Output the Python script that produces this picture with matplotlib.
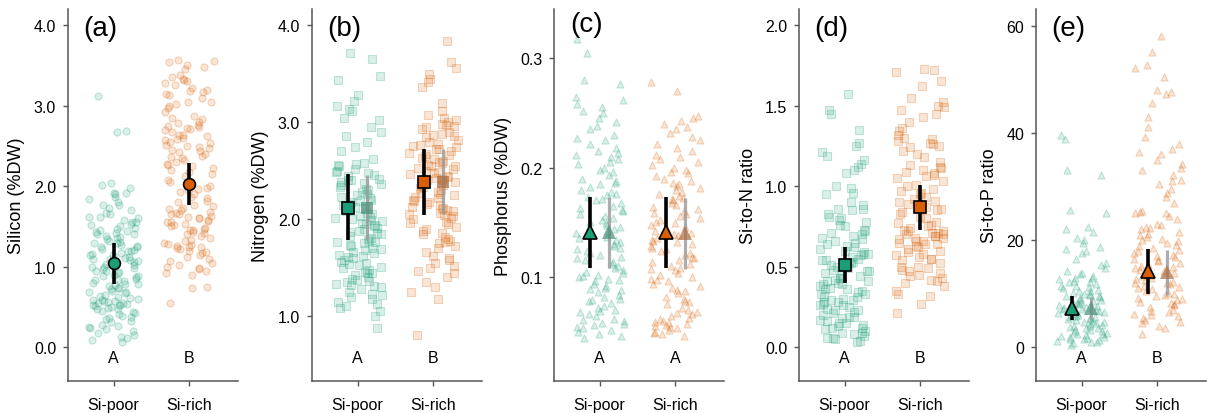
import numpy as np
import matplotlib
matplotlib.use('Agg')
import matplotlib.pyplot as plt
from matplotlib.colors import to_rgba, to_rgb

plt.rcParams['font.family'] = ['Liberation Sans', 'DejaVu Sans']

#%% Data

groups = ['Si-poor', 'Si-rich']
col_grp = ['#1b9e77', '#d95f02']

# (a) Silicon (%DW)
si_poor = [3.12, 2.69, 2.67, 2.04, 2.02, 1.98, 1.92, 1.91, 1.90, 1.87, 1.84, 1.80, 1.76, 1.73, 1.70, 1.67,
           1.65, 1.62, 1.60, 1.58, 1.56, 1.53, 1.52, 1.50, 1.48, 1.46, 1.44, 1.43, 1.41, 1.40, 1.38, 1.36,
           1.34, 1.32, 1.30, 1.29, 1.27, 1.25, 1.24, 1.22, 1.20, 1.19, 1.17, 1.16, 1.14, 1.12, 1.11, 1.10,
           1.09, 1.07, 1.06, 1.04, 1.03, 1.01, 1.00, 0.98, 0.97, 0.95, 0.93, 0.92, 0.90, 0.88, 0.87, 0.85,
           0.84, 0.82, 0.80, 0.78, 0.77, 0.76, 0.74, 0.72, 0.70, 0.69, 0.67, 0.65, 0.63, 0.61, 0.60, 0.59,
           0.58, 0.57, 0.56, 0.55, 0.54, 0.53, 0.52, 0.51, 0.50, 0.48, 0.47, 0.45, 0.43, 0.41, 0.39, 0.37,
           0.35, 0.33, 0.31, 0.28, 0.26, 0.24, 0.22, 0.20, 0.18, 0.15, 0.13, 0.11, 0.09, 0.07,
           1.55, 1.47, 1.42, 1.37, 1.31, 1.26, 1.21, 1.15, 1.08, 1.02, 0.99, 0.94, 0.89, 0.83, 0.79, 0.73,
           0.68, 0.62, 0.57, 0.55, 0.52, 0.49, 0.44, 0.36, 1.76, 1.62, 0.25]
si_rich = [3.57, 3.55, 3.54, 3.50, 3.48, 3.45, 3.38, 3.36, 3.33, 3.30, 3.28, 3.25, 3.22, 3.20, 3.17, 3.15,
           3.13, 3.10, 3.05, 3.02, 3.00, 2.97, 2.92, 2.87, 2.85, 2.83, 2.80, 2.78, 2.75, 2.73, 2.72, 2.70,
           2.67, 2.63, 2.62, 2.60, 2.58, 2.55, 2.53, 2.50, 2.48, 2.47, 2.45, 2.43, 2.40, 2.38, 2.35, 2.32,
           2.30, 2.28, 2.25, 2.22, 2.20, 2.17, 2.15, 2.12, 2.08, 2.05, 2.00, 1.97, 1.95, 1.93, 1.90, 1.87,
           1.85, 1.82, 1.80, 1.77, 1.75, 1.73, 1.70, 1.68, 1.67, 1.65, 1.63, 1.62, 1.60, 1.58, 1.56, 1.55,
           1.53, 1.50, 1.48, 1.46, 1.45, 1.43, 1.40, 1.38, 1.35, 1.32, 1.30, 1.28, 1.27, 1.25, 1.23, 1.22,
           1.20, 1.18, 1.15, 1.12, 1.10, 1.07, 1.05, 1.02, 1.00, 0.97, 0.95, 0.92, 0.90, 0.75, 0.73, 0.55,
           3.32, 3.18, 3.05, 2.76, 2.71, 2.64, 2.57, 2.51, 2.44, 2.36, 2.26, 1.98, 1.72, 1.66, 1.61, 1.57,
           1.52, 1.47, 1.42, 1.33, 1.26, 1.24, 1.17, 0.98]

# (b) Nitrogen (%DW)
n_poor = [3.72, 3.65, 3.48, 3.44, 3.28, 3.22, 3.17, 3.14, 3.12, 3.05, 3.02, 2.95, 2.90, 2.86, 2.80, 2.75,
          2.70, 2.62, 2.58, 2.56, 2.55, 2.52, 2.50, 2.48, 2.46, 2.45, 2.42, 2.40, 2.38, 2.36, 2.35, 2.33,
          2.30, 2.28, 2.26, 2.25, 2.22, 2.20, 2.18, 2.16, 2.15, 2.13, 2.10, 2.08, 2.06, 2.05, 2.03, 2.01,
          2.00, 1.98, 1.96, 1.95, 1.93, 1.91, 1.90, 1.88, 1.86, 1.85, 1.83, 1.81, 1.80, 1.78, 1.76, 1.75,
          1.73, 1.72, 1.70, 1.68, 1.66, 1.65, 1.63, 1.61, 1.60, 1.58, 1.56, 1.55, 1.53, 1.51, 1.50, 1.48,
          1.46, 1.44, 1.42, 1.40, 1.38, 1.36, 1.35, 1.33, 1.31, 1.30, 1.28, 1.25, 1.23, 1.20, 1.18, 1.15,
          1.12, 1.10, 1.08, 1.05, 1.00, 0.88,
          2.57, 2.49, 2.41, 2.31, 2.23, 2.12, 2.02, 1.94, 1.87, 1.77, 1.69, 1.62, 1.54, 1.45, 1.37, 1.32,
          1.22, 2.37, 2.19, 1.99]
n_rich = [3.84, 3.62, 3.56, 3.50, 3.45, 3.42, 3.36, 3.20, 3.12, 3.08, 3.05, 3.02, 3.00, 2.98, 2.96, 2.95,
          2.93, 2.90, 2.88, 2.86, 2.85, 2.82, 2.80, 2.78, 2.76, 2.75, 2.73, 2.72, 2.70, 2.68, 2.66, 2.65,
          2.63, 2.62, 2.60, 2.58, 2.56, 2.55, 2.53, 2.52, 2.50, 2.48, 2.47, 2.45, 2.43, 2.42, 2.40, 2.38,
          2.37, 2.35, 2.33, 2.32, 2.30, 2.28, 2.27, 2.25, 2.23, 2.22, 2.20, 2.18, 2.16, 2.15, 2.13, 2.11,
          2.10, 2.08, 2.06, 2.05, 2.03, 2.01, 2.00, 1.97, 1.95, 1.92, 1.90, 1.88, 1.85, 1.82, 1.80, 1.78,
          1.75, 1.72, 1.70, 1.66, 1.62, 1.58, 1.55, 1.50, 1.47, 1.45, 1.40, 1.35, 1.30, 1.25, 1.18, 0.80,
          2.97, 2.87, 2.77, 2.67, 2.59, 2.49, 2.41, 2.34, 2.26, 2.19, 2.12, 2.04, 1.96, 1.86, 1.76, 1.60,
          1.52, 2.55, 2.44]

# (c) Phosphorus (%DW)
p_poor = [0.318, 0.305, 0.280, 0.276, 0.265, 0.262, 0.258, 0.252, 0.250, 0.245, 0.242, 0.238, 0.235,
          0.230, 0.225, 0.222, 0.218, 0.215, 0.212, 0.210, 0.208, 0.205, 0.200, 0.198, 0.196, 0.193,
          0.190, 0.188, 0.185, 0.182, 0.180, 0.178, 0.176, 0.173, 0.171, 0.170, 0.168, 0.165, 0.163,
          0.160, 0.158, 0.156, 0.154, 0.152, 0.150, 0.148, 0.146, 0.144, 0.142, 0.140, 0.138, 0.136,
          0.134, 0.132, 0.130, 0.128, 0.126, 0.124, 0.122, 0.120, 0.118, 0.116, 0.114, 0.112, 0.110,
          0.108, 0.106, 0.104, 0.102, 0.100, 0.098, 0.096, 0.094, 0.092, 0.090, 0.088, 0.086, 0.084,
          0.082, 0.080, 0.078, 0.076, 0.074, 0.072, 0.070, 0.068, 0.066, 0.064, 0.062, 0.060, 0.058,
          0.056, 0.054, 0.052, 0.050, 0.048, 0.046, 0.044,
          0.255, 0.227, 0.213, 0.203, 0.186, 0.175, 0.161, 0.149, 0.137, 0.127, 0.117, 0.105, 0.097,
          0.089, 0.079, 0.069, 0.061, 0.053, 0.057, 0.101]
p_rich = [0.278, 0.270, 0.247, 0.245, 0.243, 0.240, 0.235, 0.232, 0.228, 0.225, 0.222, 0.218, 0.215,
          0.210, 0.208, 0.205, 0.202, 0.200, 0.198, 0.195, 0.192, 0.190, 0.188, 0.186, 0.185, 0.183,
          0.180, 0.178, 0.176, 0.174, 0.172, 0.170, 0.168, 0.166, 0.164, 0.162, 0.160, 0.158, 0.156,
          0.154, 0.152, 0.150, 0.148, 0.146, 0.144, 0.142, 0.140, 0.138, 0.136, 0.134, 0.132, 0.130,
          0.128, 0.126, 0.124, 0.122, 0.120, 0.118, 0.116, 0.114, 0.112, 0.110, 0.108, 0.106, 0.104,
          0.102, 0.100, 0.098, 0.096, 0.094, 0.092, 0.090, 0.088, 0.085, 0.082, 0.080, 0.078, 0.075,
          0.072, 0.070, 0.068, 0.066, 0.064, 0.062, 0.060, 0.058, 0.056, 0.055, 0.054, 0.052, 0.050,
          0.048, 0.046,
          0.237, 0.212, 0.196, 0.181, 0.171, 0.159, 0.149, 0.139, 0.127, 0.117, 0.107, 0.097, 0.087,
          0.077, 0.067, 0.059, 0.053, 0.049, 0.057, 0.063, 0.133]

# (d) Si-to-N ratio
sin_poor = [1.57, 1.47, 1.45, 1.35, 1.27, 1.25, 1.21, 1.19, 1.16, 1.14, 1.12, 1.10, 1.08, 1.00, 0.99, 0.96,
            0.95, 0.90, 0.88, 0.86, 0.85, 0.83, 0.81, 0.80, 0.78, 0.76, 0.75, 0.73, 0.72, 0.70, 0.69, 0.67,
            0.66, 0.65, 0.64, 0.62, 0.61, 0.60, 0.59, 0.58, 0.57, 0.56, 0.55, 0.54, 0.53, 0.52, 0.51, 0.50,
            0.49, 0.48, 0.47, 0.46, 0.45, 0.44, 0.43, 0.42, 0.41, 0.40, 0.39, 0.38, 0.37, 0.36, 0.35, 0.34,
            0.33, 0.32, 0.31, 0.30, 0.29, 0.28, 0.27, 0.26, 0.25, 0.24, 0.23, 0.22, 0.21, 0.20, 0.19, 0.18,
            0.17, 0.16, 0.15, 0.14, 0.13, 0.12, 0.11, 0.10, 0.09, 0.08, 0.07, 0.06, 0.05, 0.04, 0.03,
            0.86, 0.79, 0.71, 0.68, 0.63, 0.58, 0.54, 0.51, 0.47, 0.43, 0.39, 0.36, 0.33, 0.29, 0.26, 0.23,
            0.19, 0.15, 0.12, 0.09, 0.06, 0.53, 0.41, 0.28]
sin_rich = [1.73, 1.72, 1.71, 1.65, 1.62, 1.55, 1.52, 1.50, 1.49, 1.47, 1.45, 1.43, 1.40, 1.36, 1.34, 1.32,
            1.30, 1.28, 1.27, 1.26, 1.24, 1.22, 1.20, 1.18, 1.15, 1.13, 1.11, 1.10, 1.09, 1.08, 1.06, 1.05,
            1.03, 1.01, 1.00, 0.98, 0.96, 0.95, 0.93, 0.92, 0.90, 0.89, 0.87, 0.86, 0.84, 0.83, 0.81, 0.80,
            0.78, 0.77, 0.75, 0.74, 0.73, 0.72, 0.71, 0.70, 0.69, 0.68, 0.67, 0.66, 0.65, 0.64, 0.63, 0.62,
            0.61, 0.60, 0.58, 0.57, 0.56, 0.55, 0.54, 0.52, 0.50, 0.49, 0.47, 0.46, 0.45, 0.44, 0.42, 0.41,
            0.40, 0.38, 0.35, 0.33, 0.32, 0.27, 0.21,
            1.29, 1.25, 1.12, 1.07, 0.97, 0.91, 0.85, 0.76, 0.72, 0.70, 0.68, 0.66, 0.64, 0.59, 0.55, 0.50,
            0.48, 0.43, 0.71, 0.69]

# (e) Si-to-P ratio
sip_poor = [39.6, 38.9, 33.0, 32.2, 25.6, 25.0, 22.5, 22.1, 21.5, 20.3, 20.0, 19.4, 18.7, 18.3, 18.0, 17.5,
            16.5, 15.8, 15.3, 14.8, 14.2, 13.6, 13.3, 13.0, 12.7, 12.4, 12.1, 11.8, 11.5, 11.2, 11.0, 10.7,
            10.5, 10.2, 10.0, 9.8, 9.5, 9.3, 9.1, 8.9, 8.7, 8.5, 8.3, 8.1, 7.9, 7.7, 7.5, 7.3, 7.1, 6.9,
            6.7, 6.5, 6.3, 6.1, 5.9, 5.7, 5.5, 5.3, 5.1, 4.9, 4.7, 4.5, 4.3, 4.1, 3.9, 3.7, 3.5, 3.3, 3.1,
            2.9, 2.7, 2.5, 2.3, 2.1, 1.9, 1.7, 1.5, 1.3, 1.1, 0.9, 0.7, 0.5,
            13.8, 12.9, 12.2, 11.4, 10.4, 9.6, 8.8, 8.0, 7.2, 6.4, 5.6, 4.8, 4.0, 3.2, 2.4, 1.6, 1.0, 6.8,
            5.2, 9.9, 3.6, 2.0]
sip_rich = [58.0, 55.0, 52.6, 52.0, 50.5, 48.0, 47.6, 47.2, 45.5, 43.0, 41.0, 39.2, 38.0, 37.0, 36.4, 36.0,
            35.0, 34.2, 33.5, 33.0, 32.2, 31.2, 31.0, 30.5, 29.5, 28.8, 28.0, 27.0, 25.5, 25.2, 25.0, 24.5,
            24.0, 23.0, 22.5, 22.2, 22.0, 21.5, 21.0, 20.5, 20.2, 20.0, 19.5, 19.0, 18.5, 18.2, 18.0, 17.5,
            17.0, 16.5, 16.2, 16.0, 15.5, 15.2, 15.0, 14.5, 14.2, 14.0, 13.5, 13.2, 13.0, 12.5, 12.2, 12.0,
            11.5, 11.2, 11.0, 10.5, 10.2, 10.0, 9.5, 9.2, 9.0, 8.5, 8.2, 8.0, 7.5, 7.0, 6.5, 6.2, 6.0, 5.5,
            5.0, 4.5, 4.0, 3.5, 2.5,
            25.0, 22.8, 21.2, 19.8, 18.8, 17.2, 15.8, 14.8, 13.8, 12.8, 11.8, 10.8, 9.8, 8.8, 7.8, 6.8,
            5.8, 4.8, 12.0, 16.8]

# Estimated means and intervals (model), second set = adjusted model (grey)
mean_a = [1.04, 2.03]; lo_a = [0.78, 1.76]; hi_a = [1.29, 2.29]
mean_b = [2.12, 2.38]; lo_b = [1.79, 2.04]; hi_b = [2.47, 2.72]
adj_b = [2.12, 2.38]; adjlo_b = [1.79, 2.05]; adjhi_b = [2.46, 2.72]
mean_c = [0.141, 0.141]; lo_c = [0.108, 0.108]; hi_c = [0.173, 0.173]
adj_c = [0.141, 0.140]; adjlo_c = [0.108, 0.107]; adjhi_c = [0.173, 0.172]
mean_d = [0.51, 0.87]; lo_d = [0.40, 0.73]; hi_d = [0.62, 1.01]
mean_e = [7.4, 14.3]; lo_e = [5.0, 9.9]; hi_e = [9.6, 18.4]
adj_e = [7.3, 14.0]; adjlo_e = [5.0, 9.8]; adjhi_e = [9.4, 18.1]

letters_a = ['A', 'B']; letters_b = ['A', 'B']; letters_c = ['A', 'A']
letters_d = ['A', 'B']; letters_e = ['A', 'B']

#%% Panels

W, H = 1207., 414.
panels = [
    dict(tag='(a)', ylab='Silicon (%DW)', pts=[si_poor, si_rich], mk='o', left=68,
         m=mean_a, lo=lo_a, hi=hi_a, adj=None, let=letters_a,
         ylim=(-0.42, 4.2), yt=[0.0, 1.0, 2.0, 3.0, 4.0], fmt='%.1f', tagy=0.95),
    dict(tag='(b)', ylab='Nitrogen (%DW)', pts=[n_poor, n_rich], mk='s', left=312,
         m=mean_b, lo=lo_b, hi=hi_b, adj=(adj_b, adjlo_b, adjhi_b), let=letters_b,
         ylim=(0.33, 4.17), yt=[1.0, 2.0, 3.0, 4.0], fmt='%.1f', tagy=0.95),
    dict(tag='(c)', ylab='Phosphorus (%DW)', pts=[p_poor, p_rich], mk='^', left=554,
         m=mean_c, lo=lo_c, hi=hi_c, adj=(adj_c, adjlo_c, adjhi_c), let=letters_c,
         ylim=(0.005, 0.345), yt=[0.1, 0.2, 0.3], fmt='%.1f', tagy=0.96),
    dict(tag='(d)', ylab='Si-to-N ratio', pts=[sin_poor, sin_rich], mk='s', left=799,
         m=mean_d, lo=lo_d, hi=hi_d, adj=None, let=letters_d,
         ylim=(-0.21, 2.10), yt=[0.0, 0.5, 1.0, 1.5, 2.0], fmt='%.1f', tagy=0.95),
    dict(tag='(e)', ylab='Si-to-P ratio', pts=[sip_poor, sip_rich], mk='^', left=1036,
         m=mean_e, lo=lo_e, hi=hi_e, adj=(adj_e, adjlo_e, adjhi_e), let=letters_e,
         ylim=(-6.3, 63.1), yt=[0, 20, 40, 60], fmt='%d', tagy=0.95),
]

fig = plt.figure(figsize=(W/100., H/100.), dpi=100)

for ip, p in enumerate(panels):
    ax = fig.add_axes([p['left']/W, 32./H, 170./W, 372./H])
    # jittered raw values (hash-based horizontal scatter)
    for k in range(2):
        y = np.asarray(p['pts'][k])
        idx = np.arange(len(y)) + 1000*k + 317*ip
        u = np.sin(idx*12.9898 + 78.233)*43758.5453
        jit = ((u - np.floor(u)) - 0.5)*0.66
        ax.scatter(k+1+jit, y, marker=p['mk'], s=26, linewidths=0.8,
                   facecolors=to_rgba(col_grp[k], 0.16),
                   edgecolors=to_rgba(col_grp[k], 0.24), zorder=2)
    dx = 0.
    if p['adj'] is not None:
        dx = 0.12
        am, alo, ahi = p['adj']
        for k in range(2):
            xk = k+1+dx
            mix = 0.5*np.array(to_rgb(col_grp[k])) + 0.5*np.array([0.5, 0.5, 0.5])
            ax.plot([xk, xk], [alo[k], ahi[k]], color=(0.6, 0.6, 0.6, 0.8), lw=2.3, zorder=3,
                    solid_capstyle='butt')
            ax.plot(xk, am[k], marker=p['mk'], ms=10 if p['mk'] == '^' else 9, mew=0,
                    color=to_rgba(mix, 0.7), zorder=4)
    for k in range(2):
        xk = k+1-dx
        ax.plot([xk, xk], [p['lo'][k], p['hi'][k]], color='black', lw=2.6, zorder=5,
                solid_capstyle='butt')
        ax.plot(xk, p['m'][k], marker=p['mk'], ms=10.5 if p['mk'] == '^' else 8.5,
                mfc=col_grp[k], mec='black', mew=1.2, zorder=6)
        ax.text(k+1, 0.062, p['let'][k], transform=ax.get_xaxis_transform(),
                ha='center', va='center', fontsize=11.5)

    ax.set_xlim(0.4, 2.64)
    ax.set_ylim(*p['ylim'])
    ax.set_yticks(p['yt'])
    ax.set_yticklabels([p['fmt'] % v for v in p['yt']])
    ax.set_xticks([1, 2])
    ax.set_xticklabels(groups)
    ax.set_ylabel(p['ylab'], fontsize=13, labelpad=6)
    for s in ['top', 'right']:
        ax.spines[s].set_visible(False)
    for s in ['left', 'bottom']:
        ax.spines[s].set_color('#555555')
        ax.spines[s].set_linewidth(1.1)
    ax.tick_params(axis='both', labelsize=11.5, length=3.5, width=1, color='#555555', pad=5)
    ax.tick_params(axis='x', pad=8)
    ax.text(0.19, p['tagy'], p['tag'], transform=ax.transAxes, ha='center', va='center',
            fontsize=20)

plt.savefig('out.png', dpi=100)
